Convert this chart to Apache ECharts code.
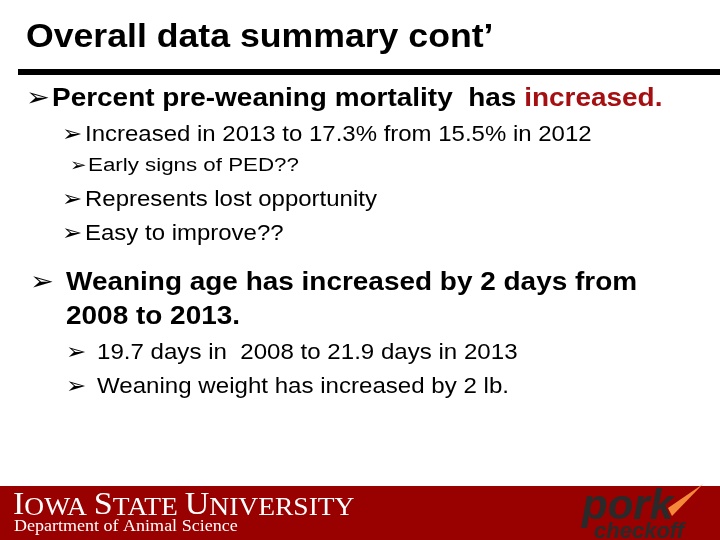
<!DOCTYPE html>
<html>
<head>
<meta charset="UTF-8">
<script src="https://cdn.jsdelivr.net/npm/echarts@6/dist/echarts.min.js"></script>
</head>
<body style="margin:0;">
<div id="container" style="width:720px;height:540px;"></div>
<script>
var dom = document.getElementById('container');
var myChart = echarts.init(dom, null, {renderer: 'canvas'});

var title = 'Overall data summary cont\u2019';
// [level, text, y, textX, arrowX]
var bullets = [
  [1, 'Percent pre-weaning mortality  has ', 99, 52, 26],
  [2, 'Increased in 2013 to 17.3% from 15.5% in 2012', 135, 85, 62],
  [3, 'Early signs of PED??', 166, 88, 70],
  [2, 'Represents lost opportunity', 200, 85, 62],
  [2, 'Easy to improve??', 234, 85, 62],
  [1, 'Weaning age has increased by 2 days from', 283, 66, 30],
  [0, '2008 to 2013.', 317, 66, 0],
  [4, '19.7 days in  2008 to 21.9 days in 2013', 353, 97, 66],
  [4, 'Weaning weight has increased by 2 lb.', 387, 97, 66]
];
var fonts = {
  0: {size: 26, weight: 'bold', sx: 1.075},
  1: {size: 26, weight: 'bold', sx: 1.075},
  2: {size: 22, weight: 'normal', sx: 1.09},
  3: {size: 18, weight: 'normal', sx: 1.24},
  4: {size: 22, weight: 'normal', sx: 1.095}
};
var ff = '"Liberation Sans", Arial, sans-serif';

var els = [
  {type: 'text', x: 26, y: 21, scaleX: 1.08, style: {text: title, font: 'bold 33px ' + ff, fill: '#000'}},
  {type: 'rect', shape: {x: 18, y: 69, width: 702, height: 6}, style: {fill: '#000'}},
  {type: 'rect', shape: {x: 0, y: 486, width: 720, height: 54}, style: {fill: '#990000'}}
];
bullets.forEach(function (b) {
  var f = fonts[b[0]];
  var font = f.weight + ' ' + f.size + 'px ' + ff;
  if (b[0] !== 0) {
    els.push({type: 'text', x: b[4], y: b[2], scaleX: 1.1, style: {text: '\u27A2', font: f.size + 'px "DejaVu Sans"', fill: '#000', verticalAlign: 'middle'}});
  }
  var txt = b[1];
  var rich = {a: {font: font, fill: '#000'}, r: {font: font, fill: '#a50f12'}};
  var s = b === bullets[0] ? '{a|' + txt + '}{r|increased.}' : '{a|' + txt + '}';
  els.push({type: 'text', x: b[3], y: b[2], scaleX: f.sx, style: {text: s, verticalAlign: 'middle', rich: rich}});
});
// footer
var serif = '"Liberation Serif", "Times New Roman", serif';
els.push({type: 'text', x: 13, y: 490, scaleX: 1.1, style: {
  text: '{b|I}{s|OWA }{b|S}{s|TATE }{b|U}{s|NIVERSITY}', fill: '#fff',
  rich: {b: {font: '31px ' + serif, fill: '#fff', verticalAlign: 'bottom'}, s: {font: '25px ' + serif, fill: '#fff', verticalAlign: 'bottom'}}
}});
els.push({type: 'text', x: 14, y: 518, scaleX: 1.06, style: {text: 'Department of Animal Science', font: '17px ' + serif, fill: '#fff'}});
els.push({type: 'polygon', shape: {points: [[668, 508], [703, 484], [672, 516]]}, style: {fill: '#f5893a'}});
els.push({type: 'text', x: 582, y: 486, style: {text: 'pork', font: 'italic bold 42px ' + ff, fill: '#2a2a2a'}});
els.push({type: 'text', x: 594, y: 521, style: {text: 'checkoff', font: 'italic bold 22px ' + ff, fill: '#2a2a2a'}});

var option = {
  backgroundColor: '#fff',
  animation: false,
  graphic: els
};
myChart.setOption(option);
</script>
</body>
</html>
